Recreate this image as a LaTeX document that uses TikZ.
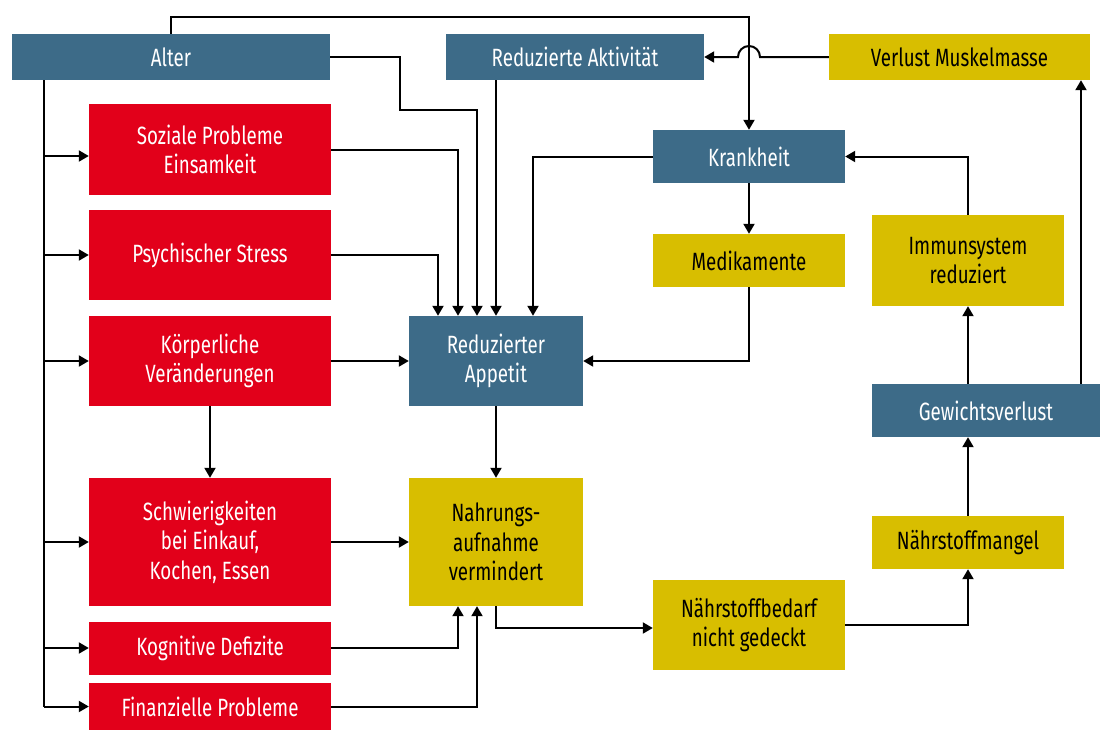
\documentclass[tikz,border=0pt]{standalone}
\usepackage{fontspec}
\setmainfont{Fira Sans}[FakeStretch=0.75]
\usetikzlibrary{arrows.meta}
\definecolor{blau}{RGB}{61,107,136}
\definecolor{rot}{RGB}{226,0,26}
\definecolor{gelb}{RGB}{216,190,0}

\begin{document}
\begin{tikzpicture}[x=1pt, y=-1pt,
	box/.style={inner sep=0pt, align=center, font=\fontsize{25}{29.5}\selectfont},
	blaubox/.style={box, fill=blau, text=white},
	rotbox/.style={box, fill=rot, text=white, minimum width=242},
	gelbbox/.style={box, fill=gelb, text=black},
	linie/.style={line width=2pt},
	pfeil/.style={line width=2pt, -{Triangle[length=10pt, width=11pt]}}]
	\useasboundingbox (0,0) rectangle (1103,729);
	% linke Spalte
	\node[blaubox, minimum width=318, minimum height=46] (alter) at (171,57) {Alter};
	\node[rotbox, minimum height=91] (sozial) at (210,149.5) {Soziale Probleme\\Einsamkeit};
	\node[rotbox, minimum height=90] (stress) at (210,255) {Psychischer Stress};
	\node[rotbox, minimum height=90] (koerper) at (210,361) {Körperliche\\Veränderungen};
	\node[rotbox, minimum height=128] (einkauf) at (210,542) {Schwierigkeiten\\bei Einkauf,\\Kochen, Essen};
	\node[rotbox, minimum height=53] (kognitiv) at (210,648) {Kognitive Defizite};
	\node[rotbox, minimum height=47] (finanz) at (210,706.5) {Finanzielle Probleme};
	% Mitte
	\node[blaubox, minimum width=258, minimum height=46] (aktiv) at (575,57) {Reduzierte Aktivität};
	\node[blaubox, minimum width=174, minimum height=90] (appetit) at (496,361) {Reduzierter\\Appetit};
	\node[gelbbox, minimum width=174, minimum height=128] (nahrung) at (496,542) {Nahrungs-\\aufnahme\\vermindert};
	\node[blaubox, minimum width=192, minimum height=53] (krank) at (749,156.5) {Krankheit};
	\node[gelbbox, minimum width=192, minimum height=53] (medi) at (749,260.5) {Medikamente};
	\node[gelbbox, minimum width=192, minimum height=90] (bedarf) at (749,625) {Nährstoffbedarf\\nicht gedeckt};
	% rechte Spalte
	\node[gelbbox, minimum width=261, minimum height=46] (muskel) at (959.5,57) {Verlust Muskelmasse};
	\node[gelbbox, minimum width=192, minimum height=91] (immun) at (968,260.5) {Immunsystem\\reduziert};
	\node[blaubox, minimum width=228, minimum height=53] (gewicht) at (986,410.5) {Gewichtsverlust};
	\node[gelbbox, minimum width=192, minimum height=53] (mangel) at (968,542.5) {Nährstoffmangel};

	% Alter -> linke Kaesten
	\coordinate (stamm) at (44,706.5);
	\draw[linie] (alter.south -| stamm) -- (stamm);
	\draw[pfeil] ([yshift=-6.5pt]sozial.west -| stamm) -- ([yshift=-6.5pt]sozial.west);
	\foreach \n in {stress, koerper, einkauf, kognitiv, finanz}
		\draw[pfeil] (\n.west -| stamm) -- (\n.west);
	% Alter -> Krankheit
	\draw[pfeil] (alter.north) -- ++(0,-17) -| (krank.north);
	\coordinate (kreuz) at (krank.north |- muskel.west);
	\draw[pfeil] (muskel.west) -- ([xshift=11pt]kreuz) arc[start angle=0, end angle=180, radius=11pt] -- (aktiv.east);
	% -> Reduzierter Appetit
	\draw[pfeil] (alter.east) -| (400,110) -| ([xshift=-19pt]appetit.north);
	\draw[pfeil] (sozial.east) -| ([xshift=-38pt]appetit.north);
	\draw[pfeil] (stress.east) -| ([xshift=-58pt]appetit.north);
	\draw[pfeil] (aktiv.south -| appetit.north) -- (appetit.north);
	\draw[pfeil] (krank.west) -| ([xshift=37pt]appetit.north);
	\draw[pfeil] (koerper.east) -- (appetit.west);
	\draw[pfeil] (medi.south) |- (appetit.east);
	\draw[pfeil] (krank.south) -- (medi.north);
	% -> Nahrungsaufnahme
	\draw[pfeil] (koerper.south) -- (einkauf.north);
	\draw[pfeil] (appetit.south) -- (nahrung.north);
	\draw[pfeil] (einkauf.east) -- (nahrung.west);
	\draw[pfeil] (kognitiv.east) -| ([xshift=-38pt]nahrung.south);
	\draw[pfeil] (finanz.east) -| ([xshift=-19pt]nahrung.south);
	% Kette rechts
	\draw[pfeil] (nahrung.south) |- ([yshift=-3pt]bedarf.west);
	\draw[pfeil] (bedarf.east) -| (mangel.south);
	\draw[pfeil] (mangel.north) -- (mangel.north |- gewicht.south);
	\draw[pfeil] (immun.south |- gewicht.north) -- (immun.south);
	\draw[pfeil] (immun.north) |- (krank.east);
	\coordinate (gw) at ([xshift=95pt]gewicht.north);
	\draw[pfeil] (gw) -- (gw |- muskel.south);
\end{tikzpicture}
\end{document}
